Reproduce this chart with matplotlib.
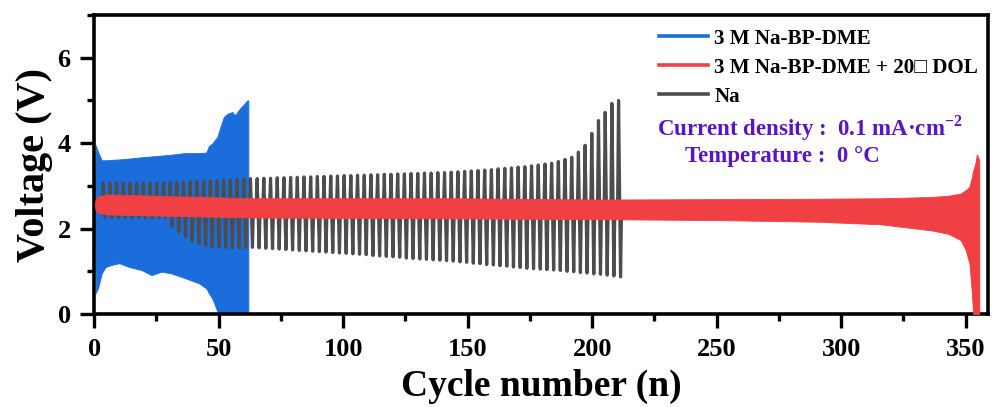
import numpy as np
import matplotlib
matplotlib.use("Agg")
import matplotlib.pyplot as plt
from matplotlib.lines import Line2D
from matplotlib.ticker import MultipleLocator

plt.rcParams['font.family'] = ['Liberation Serif', 'DejaVu Serif']
plt.rcParams['font.weight'] = 'bold'
plt.rcParams['mathtext.fontset'] = 'custom'
plt.rcParams['mathtext.rm'] = 'Liberation Serif:bold'
plt.rcParams['mathtext.bf'] = 'Liberation Serif:bold'

# ---- data ----
# 3 M Na-BP-DME : envelope of the (very dense) voltage trace
blue_cycle = [0.3, 0.6, 1.5, 3.0, 4.5, 7.0, 10.0, 14.0, 19.0, 23.0, 27.0, 31.0, 36.5, 42.0,
              45.0, 46.0, 47.5, 48.5, 49.5, 50.0, 52.0, 53.5, 55.5, 56.5, 57.5, 58.5, 60.0, 61.4, 61.9]
blue_top = [2.6, 3.95, 3.8, 3.6, 3.6, 3.61, 3.62, 3.64, 3.67, 3.69, 3.71, 3.73, 3.77, 3.77,
            3.78, 3.93, 4.0, 4.08, 4.15, 4.26, 4.61, 4.69, 4.73, 4.65, 4.73, 4.81, 4.9, 5.0, 5.0]
blue_bottom = [2.5, 0.49, 0.6, 0.95, 1.1, 1.15, 1.19, 1.1, 1.03, 0.91, 0.99, 0.95, 0.84, 0.72,
               0.6, 0.49, 0.35, 0.2, 0.05, 0.0, 0.0, 0.0, 0.0, 0.0, 0.0, 0.0, 0.0, 0.0, 0.0]

# 3 M Na-BP-DME + 20□ DOL : envelope
red_cycle = [0.3, 1.0, 5.6, 30, 63, 100, 143, 203, 250, 291, 316, 336, 343, 348, 350,
             351.5, 352.5, 353, 354, 354.5, 355.5]
red_top = [2.62, 2.75, 2.80, 2.76, 2.71, 2.71, 2.71, 2.68, 2.69, 2.70, 2.71, 2.74, 2.77, 2.82, 2.9,
           2.98, 3.2, 3.35, 3.55, 3.74, 3.6]
red_bottom = [2.5, 2.38, 2.33, 2.3, 2.26, 2.25, 2.24, 2.22, 2.2, 2.16, 2.1, 1.96, 1.88, 1.73, 1.5,
              1.19, 0.5, 0.0, 0.0, 0.0, 0.0]

# Na : one spike per cycle, peak and dip voltages
gray_first_peak = 3.6
gray_last_peak = 210.6
gray_rest = 2.5
gray_top = [
    3.07, 3.07, 3.07, 3.07, 3.07, 3.07, 3.07, 3.07, 3.07, 3.07,
    3.08, 3.08, 3.09, 3.10, 3.10, 3.11, 3.12, 3.12, 3.13, 3.14,
    3.15, 3.16, 3.17, 3.17, 3.18, 3.18, 3.19, 3.19, 3.20, 3.20,
    3.21, 3.21, 3.22, 3.22, 3.23, 3.23, 3.24, 3.24, 3.25, 3.25,
    3.26, 3.26, 3.27, 3.27, 3.28, 3.28, 3.29, 3.29, 3.30, 3.30,
    3.31, 3.31, 3.32, 3.33, 3.34, 3.35, 3.36, 3.37, 3.38, 3.40,
    3.41, 3.42, 3.44, 3.45, 3.47, 3.49, 3.51, 3.53, 3.57, 3.62,
    3.67, 3.79, 3.95, 4.23, 4.53, 4.72, 4.93, 5.00]
gray_bottom = [
    2.25, 2.25, 2.25, 2.25, 2.25, 2.25, 2.25, 2.25, 2.25, 2.25,
    2.05, 1.92, 1.80, 1.70, 1.65, 1.60, 1.57, 1.56, 1.56, 1.55,
    1.55, 1.55, 1.56, 1.55, 1.54, 1.53, 1.52, 1.51, 1.50, 1.49,
    1.48, 1.47, 1.46, 1.45, 1.44, 1.43, 1.42, 1.41, 1.40, 1.39,
    1.37, 1.36, 1.35, 1.34, 1.33, 1.31, 1.30, 1.29, 1.28, 1.27,
    1.26, 1.25, 1.24, 1.22, 1.21, 1.19, 1.18, 1.16, 1.15, 1.13,
    1.12, 1.10, 1.09, 1.07, 1.06, 1.05, 1.04, 1.03, 1.02, 1.00,
    0.99, 0.97, 0.96, 0.94, 0.93, 0.91, 0.89, 0.87]

labels = ['3 M Na-BP-DME', '3 M Na-BP-DME + 20\u25a1 DOL', 'Na']
c_blue = '#1c6ddc'
c_red = '#f04043'
c_gray = '#4d4d4d'
c_purple = '#5a14c8'

fig = plt.figure(figsize=(9.92, 4.07), dpi=100)
ax = fig.add_axes([0.095, 0.2285, 0.901, 0.7345])

ax.fill_between(blue_cycle, blue_bottom, blue_top, color=c_blue, lw=0.6, zorder=1)

# Na trace: rest -> peak -> dip -> rest, for every spike
peaks = np.linspace(gray_first_peak, gray_last_peak, len(gray_top))
gx, gy = [0.0], [gray_rest]
for c, hi, lo in zip(peaks, gray_top, gray_bottom):
    gx += [c - 0.4, c, c + 0.8, c + 1.2]
    gy += [gray_rest, hi, lo, gray_rest]
ax.plot(gx, gy, color=c_gray, lw=2.3, zorder=2, solid_joinstyle='round')

ax.fill_between(red_cycle, red_bottom, red_top, color=c_red, lw=0.6, zorder=3)

ax.set_xlim(0, 359)
ax.set_ylim(0, 7)
ax.xaxis.set_major_locator(MultipleLocator(50))
ax.xaxis.set_minor_locator(MultipleLocator(25))
ax.yaxis.set_major_locator(MultipleLocator(2))
ax.yaxis.set_minor_locator(MultipleLocator(1))
ax.tick_params(which='major', direction='out', length=10, width=2.4, labelsize=19, pad=7)
ax.tick_params(which='minor', direction='out', length=5, width=2.4)
for s in ax.spines.values():
    s.set_linewidth(2.6)

ax.set_xlabel('Cycle number (n)', fontsize=27, fontweight='bold', labelpad=6)
ax.set_ylabel('Voltage (V)', fontsize=29, fontweight='bold', labelpad=3)

handles = [Line2D([], [], color=c_blue, lw=2.6),
           Line2D([], [], color=c_red, lw=2.6),
           Line2D([], [], color=c_gray, lw=2.6)]
leg = ax.legend(handles, labels, loc='upper left', bbox_to_anchor=(0.617, 1.0), frameon=False,
                prop={'size': 15.2, 'weight': 'bold'}, handlelength=2.3, handletextpad=0.3,
                labelspacing=0.42, borderaxespad=0.25)

ax.text(0.630, 0.622, 'Current density :  0.1 mA\u00b7cm$^{\\mathbf{-2}}$', transform=ax.transAxes,
        color=c_purple, fontsize=16.5, fontweight='bold', va='center', ha='left')
ax.text(0.661, 0.528, 'Temperature :  0 \u00b0C', transform=ax.transAxes,
        color=c_purple, fontsize=16.5, fontweight='bold', va='center', ha='left')

fig.savefig('out.png', dpi=100)
